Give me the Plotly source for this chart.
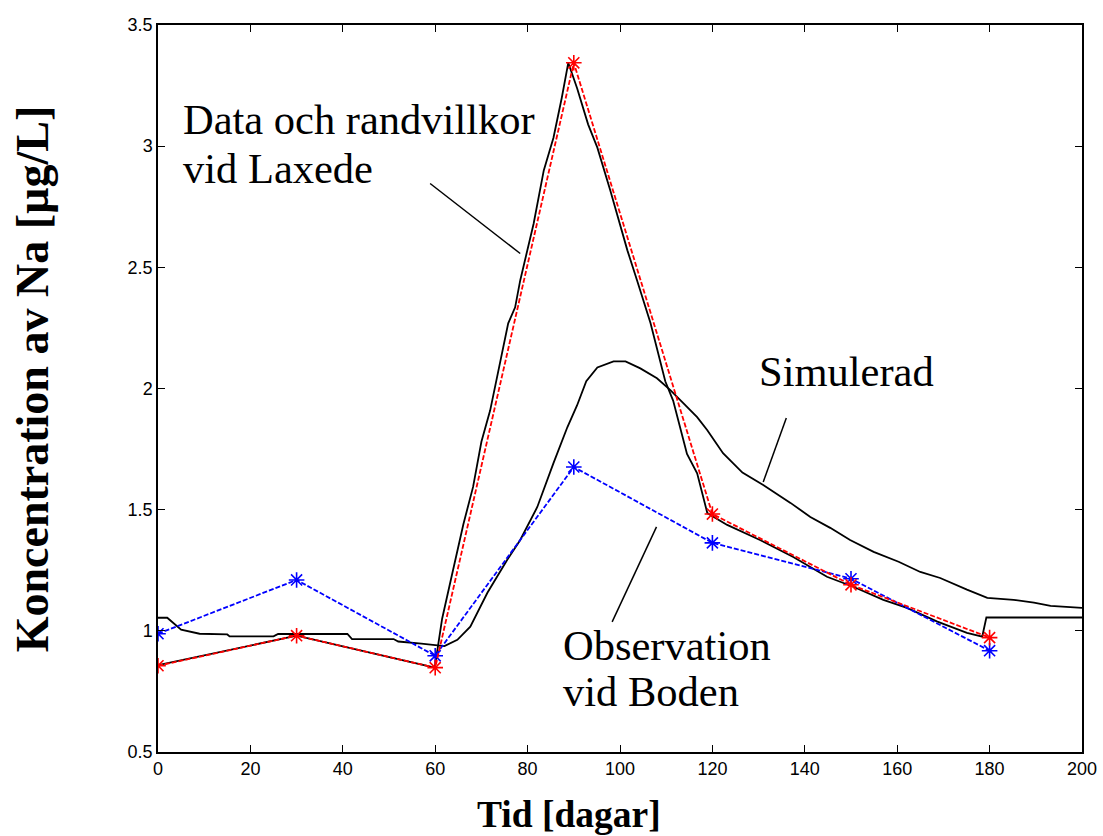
import plotly.graph_objects as go

# ---- data ----
days_obs = [0, 30, 60, 90, 120, 150, 180]
laxede_data = [0.856, 0.980, 0.848, 3.344, 1.482, 1.190, 0.972]      # red, Data och randvillkor
boden_obs = [0.988, 1.210, 0.897, 1.676, 1.363, 1.215, 0.918]        # blue, Observation vid Boden

# black boundary condition curve (Laxede)
rand_x = [0, 30, 59.9, 61.5, 63.5, 66.1, 68.2, 70.0, 71.9, 74.1, 75.8, 77.3, 78.4, 81.3, 83.5,
          85.6, 87.4, 88.8, 90.7, 93.1, 95.1, 97.9, 101.6, 103.7, 106.6, 109.8, 111.5, 114.5,
          116.7, 118.9, 123.2, 130.3, 137.5, 144.8, 150.5, 157.0, 162.1, 168.7, 175.1, 178.4,
          179.3, 200]
rand_y = [0.858, 0.980, 0.848, 1.05, 1.22, 1.44, 1.594, 1.78, 1.91, 2.117, 2.269, 2.335, 2.446,
          2.68, 2.90, 3.035, 3.20, 3.344, 3.24, 3.09, 2.994, 2.817, 2.57, 2.446, 2.27, 2.03,
          1.95, 1.73, 1.65, 1.486, 1.437, 1.375, 1.305, 1.223, 1.182, 1.128, 1.095, 1.038,
          0.992, 0.976, 1.055, 1.055]

# black simulated curve at Boden
sim_x = [0, 2, 5, 9, 15, 15.5, 25, 26, 41, 42, 51, 52, 57, 60, 62, 64.8, 67.6, 71.3, 75.6,
         78.4, 82.1, 85.6, 88.6, 90.7, 92.7, 95.1, 98.6, 101.2, 104.4, 108, 110.9, 113.7,
         116.7, 118.9, 122.3, 126.5, 131, 136.9, 141.2, 145.5, 149.8, 154.9, 160.3, 165,
         169.3, 175.1, 179.5, 185.2, 189.6, 193.2, 200]
sim_y = [1.054, 1.054, 1.005, 0.988, 0.985, 0.977, 0.977, 0.987, 0.987, 0.966, 0.966, 0.956,
         0.947, 0.940, 0.937, 0.963, 1.017, 1.157, 1.293, 1.375, 1.511, 1.692, 1.84, 1.93,
         2.03, 2.087, 2.112, 2.112, 2.083, 2.042, 1.993, 1.94, 1.882, 1.828, 1.733, 1.653,
         1.602, 1.528, 1.47, 1.425, 1.375, 1.326, 1.285, 1.243, 1.218, 1.17, 1.136, 1.128,
         1.116, 1.103, 1.095]

x_ticks = [0, 20, 40, 60, 80, 100, 120, 140, 160, 180, 200]
y_ticks = [0.5, 1, 1.5, 2, 2.5, 3, 3.5]
y_ticktext = ["0.5", "1", "1.5", "2", "2.5", "3", "3.5"]

serif = "Liberation Serif, Times New Roman, serif"
sans = "Liberation Sans, Arial, sans-serif"

fig = go.Figure()

fig.add_trace(go.Scatter(x=sim_x, y=sim_y, mode="lines",
                         line=dict(color="black", width=1.8), showlegend=False))
fig.add_trace(go.Scatter(x=rand_x, y=rand_y, mode="lines",
                         line=dict(color="black", width=1.8), showlegend=False))
fig.add_trace(go.Scatter(x=days_obs, y=boden_obs, mode="lines+markers",
                         line=dict(color="#0000ff", width=1.8, dash="5px,2px"),
                         marker=dict(symbol="asterisk-open", size=13, color="#0000ff",
                                     line=dict(color="#0000ff", width=1.6)),
                         showlegend=False))
fig.add_trace(go.Scatter(x=days_obs, y=laxede_data, mode="lines+markers",
                         line=dict(color="#ff0000", width=1.8, dash="5px,2px"),
                         marker=dict(symbol="asterisk-open", size=13, color="#ff0000",
                                     line=dict(color="#ff0000", width=1.6)),
                         showlegend=False))

# text labels
label_font = dict(family=serif, size=42.5, color="black")
texts = [
    ("Data och randvillkor", 5.0, 3.109),
    ("vid Laxede", 5.0, 2.907),
    ("Simulerad", 129.7, 2.071),
    ("Observation", 87.3, 0.939),
    ("vid Boden", 87.3, 0.749),
]
for t, tx, ty in texts:
    fig.add_annotation(x=tx, y=ty, text=t, showarrow=False, xanchor="left",
                       yanchor="middle", font=label_font)

# leader lines
leaders = [
    (58.9, 2.846, 78.4, 2.557),
    (136.0, 1.878, 131.0, 1.614),
    (98.3, 1.037, 107.9, 1.429),
]
for x0, y0, x1, y1 in leaders:
    fig.add_shape(type="line", x0=x0, y0=y0, x1=x1, y1=y1, xref="x", yref="y",
                  line=dict(color="black", width=1.5))

# axis titles
fig.add_annotation(x=0.4448, y=-0.0855, xref="paper", yref="paper", text="Tid [dagar]",
                   showarrow=False, xanchor="center", yanchor="middle",
                   font=dict(family=serif, size=37.5, color="black", weight="bold"))
fig.add_annotation(x=-0.1364, y=0.514, xref="paper", yref="paper",
                   text="Koncentration av Na [µg/L]", textangle=-90,
                   showarrow=False, xanchor="center", yanchor="middle",
                   font=dict(family=serif, size=46, color="black", weight="bold"))

axis_common = dict(showgrid=False, zeroline=False, showline=True, mirror="ticks",
                   linecolor="black", linewidth=1.5, ticks="inside", ticklen=7,
                   tickwidth=1.2, tickcolor="black", automargin=False,
                   tickfont=dict(family=sans, size=18, color="black"))

fig.update_xaxes(range=[0, 200], tickvals=x_ticks, **axis_common)
fig.update_yaxes(range=[0.5, 3.5], tickvals=y_ticks, ticktext=y_ticktext, **axis_common)

fig.update_layout(width=1103, height=836, plot_bgcolor="white", paper_bgcolor="white",
                  margin=dict(l=158, r=21, t=25, b=84))

fig.write_html("out.html")
